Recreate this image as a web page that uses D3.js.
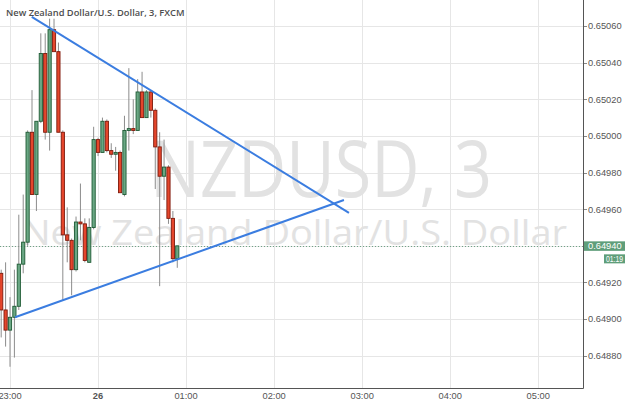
<!DOCTYPE html>
<html>
<head>
<meta charset="utf-8">
<script src="https://cdn.jsdelivr.net/npm/d3@7"></script>
<style>
  html, body { margin:0; padding:0; background:#fff; overflow:hidden; }
  svg { display:block; }
</style>
</head>
<body>
<div id="chart"></div>
<script>
// NZDUSD 3 min chart (FXCM) — candles + two hand drawn trend lines

const titleText = 'New Zealand Dollar/U.S. Dollar, 3, FXCM';
const watermark = ['NZDUSD, 3', 'New Zealand Dollar/U.S. Dollar'];

// bar open times (day 25 -> 26 at midnight)
const barTimes = ['22:54','22:57','23:00','23:03','23:06','23:09','23:12','23:15','23:18','23:21',
  '23:24','23:27','23:30','23:33','23:36','23:39','23:42','23:45','23:48','23:51',
  '23:54','23:57','00:00','00:03','00:06','00:09','00:12','00:15','00:18','00:21',
  '00:24','00:27','00:30','00:33','00:36','00:39','00:42','00:45','00:48','00:51','00:54'];

const opens  = [0.64925,0.64905,0.64894,0.64901,0.64907,0.64930,0.64942,0.65002,0.64968,0.65008,
  0.65045,0.65002,0.65058,0.65046,0.65002,0.64946,0.64943,0.64927,0.64953,0.64952,
  0.64931,0.64950,0.64998,0.64991,0.65008,0.64992,0.64990,0.64991,0.64968,0.65003,
  0.65004,0.65003,0.65024,0.65010,0.65024,0.65014,0.64994,0.64978,0.64983,0.64955,0.64933];
const highs  = [0.64927,0.64931,0.64912,0.64927,0.64957,0.64968,0.65003,0.65025,0.65008,0.65056,
  0.65056,0.65064,0.65064,0.65051,0.65003,0.64961,0.64944,0.64956,0.64974,0.64955,
  0.64955,0.65005,0.64999,0.65010,0.65009,0.64996,0.64994,0.64992,0.65011,0.65037,
  0.65020,0.65031,0.65035,0.65025,0.65025,0.65015,0.65002,0.64998,0.64984,0.64959,0.64940];
const lows   = [0.64890,0.64885,0.64874,0.64879,0.64905,0.64925,0.64940,0.64968,0.64959,0.65007,
  0.64998,0.64992,0.65046,0.65002,0.64910,0.64931,0.64913,0.64926,0.64943,0.64931,
  0.64931,0.64949,0.64989,0.64991,0.64991,0.64988,0.64981,0.64969,0.64967,0.64992,
  0.65001,0.65003,0.65010,0.65010,0.65010,0.64971,0.64918,0.64965,0.64952,0.64931,0.64928];
const closes = [0.64905,0.64894,0.64901,0.64907,0.64930,0.64942,0.65002,0.64968,0.65008,0.65045,
  0.65002,0.65058,0.65046,0.65002,0.64946,0.64943,0.64927,0.64953,0.64952,0.64932,
  0.64950,0.64998,0.64991,0.65008,0.64992,0.64990,0.64991,0.64969,0.65003,0.65004,
  0.65003,0.65024,0.65010,0.65024,0.65014,0.64994,0.64978,0.64983,0.64955,0.64933,0.64940];

// trend lines: [time, price] end points
const upperLine = [['23:14:50', 0.65065], ['02:51:00', 0.64958]];
const lowerLine = [['23:03:25', 0.64901], ['02:47:35', 0.64965]];

const priceTicks = [0.64880,0.64900,0.64920,0.64940,0.64960,0.64980,0.65000,0.65020,0.65040,0.65060];
const timeTicks  = ['23:00','00:00','01:00','02:00','03:00','04:00','05:00'];
const timeLabels = ['23:00','26','01:00','02:00','03:00','04:00','05:00'];

const lastPrice = 0.64940;
const countdown = '01:19';

// --- helpers
function toDate(s){
  const p = s.split(':').map(Number);
  const day = p[0] >= 12 ? 25 : 26;
  return new Date(2016, 0, day, p[0], p[1], p[2] || 0);
}

const bars = barTimes.map((t, i) => ({ t: toDate(t), o: opens[i], h: highs[i], l: lows[i], c: closes[i] }));

// --- layout
const W = 625, H = 401;
const plotW = 583, plotH = 388;
const axisFont = '"Liberation Sans", Arial, sans-serif';

const svg = d3.select('#chart').append('svg').attr('width', W).attr('height', H);

const x = d3.scaleTime().domain([toDate('22:53:11'), toDate('05:30:30')]).range([0, plotW]);
const y = d3.scaleLinear().domain([0.648624, 0.650742]).range([plotH, 0]);

const crisp = v => Math.round(v) + 0.5;

svg.append('defs').append('clipPath').attr('id','plotclip')
  .append('rect').attr('x',0).attr('y',0).attr('width',plotW).attr('height',plotH);

const plot = svg.append('g').attr('clip-path','url(#plotclip)');

// grid
plot.append('g').selectAll('line').data(priceTicks).join('line')
  .attr('x1',0).attr('x2',plotW)
  .attr('y1', d => crisp(y(d))).attr('y2', d => crisp(y(d)))
  .attr('stroke','#e6e6e6').attr('stroke-width',1);
plot.append('g').selectAll('line').data(timeTicks).join('line')
  .attr('y1',0).attr('y2',plotH)
  .attr('x1', d => crisp(x(toDate(d)))).attr('x2', d => crisp(x(toDate(d))))
  .attr('stroke','#e6e6e6').attr('stroke-width',1);

// watermark (narrow font look -> squeeze glyphs)
plot.append('text')
  .attr('x',150).attr('y',197)
  .attr('textLength',342).attr('lengthAdjust','spacingAndGlyphs')
  .style('font-family','"Open Sans", sans-serif').style('font-size','78px')
  .attr('fill','#e2e2e2')
  .text(watermark[0]);
plot.append('text')
  .attr('x',22).attr('y',245)
  .attr('textLength',545).attr('lengthAdjust','spacingAndGlyphs')
  .style('font-family','"Open Sans", sans-serif').style('font-size','35px')
  .attr('fill','#e2e2e2')
  .text(watermark[1]);

// last price dotted line
plot.append('line')
  .attr('x1',0).attr('x2',plotW)
  .attr('y1', crisp(y(lastPrice))).attr('y2', crisp(y(lastPrice)))
  .attr('stroke','#6fa386').attr('stroke-width',1).attr('stroke-dasharray','1,2');

// candles
const up = d => d.c >= d.o;
const candle = plot.append('g').selectAll('g').data(bars).join('g');

candle.append('line')
  .attr('x1', d => x(d.t)).attr('x2', d => x(d.t))
  .attr('y1', d => y(d.h)).attr('y2', d => y(d.l))
  .attr('stroke','#8c8c8c').attr('stroke-width',1);

candle.append('rect')
  .attr('x', d => x(d.t) - 1.6).attr('width', 3.2)
  .attr('y', d => y(Math.max(d.o, d.c)))
  .attr('height', d => Math.max(1, Math.abs(y(d.o) - y(d.c))))
  .attr('fill', d => up(d) ? '#6aa784' : '#e5462c')
  .attr('stroke', d => up(d) ? '#1e5a34' : '#7e1a0c')
  .attr('stroke-width', 0.9);

// trend lines
const lineGen = d3.line().x(d => x(toDate(d[0]))).y(d => y(d[1]));
[upperLine, lowerLine].forEach(l => {
  plot.append('path').attr('d', lineGen(l))
    .attr('fill','none').attr('stroke','#3b7de0').attr('stroke-width',2);
});

// title
svg.append('text')
  .attr('x',6).attr('y',15.5)
  .style('font-family','"Open Sans", sans-serif').style('font-size','9.3px').style('font-weight',600)
  .attr('fill','#4d4d4d')
  .text(titleText);

// axes frame
svg.append('path')
  .attr('d', `M${plotW + 0.5},0 V${plotH + 0.5} H0`)
  .attr('fill','none').attr('stroke','#555').attr('stroke-width',1);

// price axis
const pAxis = svg.append('g');
pAxis.selectAll('line').data(priceTicks).join('line')
  .attr('x1', plotW + 1).attr('x2', plotW + 4)
  .attr('y1', d => crisp(y(d))).attr('y2', d => crisp(y(d)))
  .attr('stroke','#888');
pAxis.selectAll('text').data(priceTicks).join('text')
  .attr('x', plotW + 5).attr('y', d => y(d) + 3.3)
  .style('font-family', axisFont).style('font-size','9.3px')
  .attr('fill','#555')
  .text(d => d3.format('.5f')(d));

// time axis
const tAxis = svg.append('g');
tAxis.selectAll('text').data(timeTicks).join('text')
  .attr('x', d => x(toDate(d))).attr('y', 398.5)
  .attr('text-anchor','middle')
  .style('font-family', axisFont).style('font-size','9.3px')
  .style('font-weight', (d, i) => timeLabels[i] === '26' ? 'bold' : 'normal')
  .attr('fill','#555')
  .text((d, i) => timeLabels[i]);

// last price tag + bar countdown
const ly = y(lastPrice);
svg.append('rect').attr('x', plotW + 1).attr('y', ly - 4.5).attr('width', 41).attr('height', 9.5).attr('fill','#5f9e7a');
svg.append('text').attr('x', plotW + 5).attr('y', ly + 3.3)
  .style('font-family', axisFont).style('font-size','9.3px')
  .attr('fill','#fff').text(d3.format('.5f')(lastPrice));
svg.append('rect').attr('x', 604).attr('y', ly + 8.5).attr('width', 21).attr('height', 9).attr('fill','#5f9e7a');
svg.append('text').attr('x', 606).attr('y', ly + 16)
  .attr('textLength', 17).attr('lengthAdjust','spacingAndGlyphs')
  .style('font-family', axisFont).style('font-size','8.8px')
  .attr('fill','#fff').text(countdown);
</script>
</body>
</html>
